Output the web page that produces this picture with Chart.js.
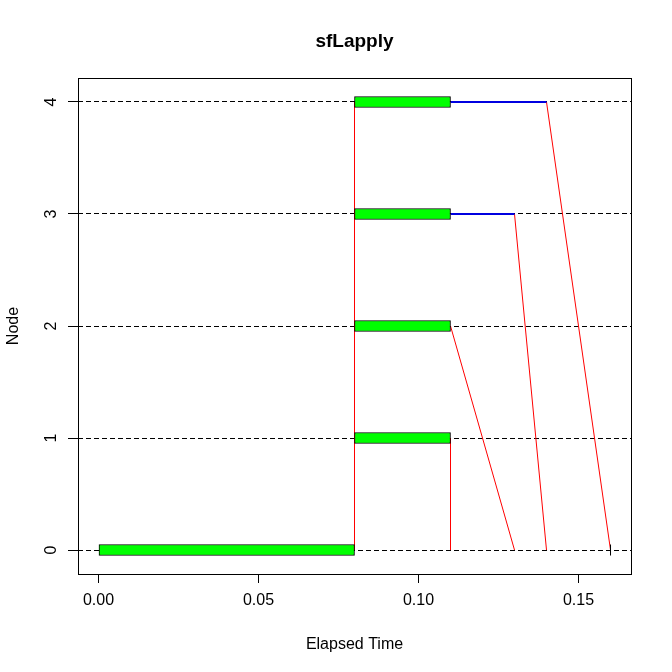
<!DOCTYPE html>
<html>
<head>
<meta charset="utf-8">
<script src="https://cdn.jsdelivr.net/npm/chart.js@4/dist/chart.umd.min.js"></script>
<style>
  html, body { margin: 0; padding: 0; background: #fff; }
  #wrap { width: 672px; height: 672px; }
</style>
</head>
<body>
<div id="wrap"><canvas id="timing"></canvas></div>
<script>
// snow-style timing plot: compute spans, sends, waits, returns
const chartTitle = 'sfLapply';
const xLabel = 'Elapsed Time';
const yLabel = 'Node';
const xTicks = [0, 0.05, 0.10, 0.15];
const yTicks = [0, 1, 2, 3, 4];
const xRange = [-0.0064, 0.1664];
const yRange = [-0.214, 4.214];

const masterNode = 0;
const masterBusy = [0, 0.08];
const masterDone = 0.16;

const workerNodes = [1, 2, 3, 4];
const sendTimes = [0.08, 0.08, 0.08, 0.08];
const workStart = [0.08, 0.08, 0.08, 0.08];
const workEnd = [0.11, 0.11, 0.11, 0.11];
const returnStart = [0.11, 0.11, 0.13, 0.14];
const returnEnd = [0.11, 0.13, 0.14, 0.16];

const FONT = '"Liberation Sans", Arial, sans-serif';

const segment = (x1, y1, x2, y2, color, width) => ({
  type: 'line',
  data: [{ x: x1, y: y1 }, { x: x2, y: y2 }],
  borderColor: color,
  borderWidth: width || 1,
  pointRadius: 0,
  fill: false,
  tension: 0,
  xAxisID: 'x',
  yAxisID: 'y'
});

const computeBars = {
  type: 'bar',
  indexAxis: 'y',
  data: [{ x: masterBusy, y: masterNode }].concat(
    workerNodes.map((n, i) => ({ x: [workStart[i], workEnd[i]], y: n }))
  ),
  backgroundColor: '#00ff00',
  borderColor: '#000000',
  borderWidth: 1,
  borderSkipped: false,
  barThickness: 11,
  xAxisID: 'x',
  yAxisID: 'y'
};

const sendLines = workerNodes.map((n, i) => segment(sendTimes[i], masterNode, workStart[i], n, '#ff0000'));
const waitLines = workerNodes.map((n, i) => segment(workEnd[i], n, returnStart[i], n, '#0000e0', 2));
const returnLines = workerNodes.map((n, i) => segment(returnStart[i], n, returnEnd[i], masterNode, '#ff0000'));

const doneMark = {
  type: 'scatter',
  data: [{ x: masterDone, y: masterNode }],
  pointStyle: 'line',
  rotation: 90,
  radius: 5.5,
  borderColor: '#000000',
  borderWidth: 1,
  xAxisID: 'x',
  yAxisID: 'y'
};

// box round the plot + title centred over the plot region
const frame = {
  id: 'frame',
  beforeDatasetsDraw(chart) {
    const { ctx, chartArea: a } = chart;
    ctx.save();
    ctx.strokeStyle = '#000';
    ctx.lineWidth = 1;
    ctx.strokeRect(Math.round(a.left) + 0.5, Math.round(a.top) + 0.5,
      Math.round(a.right - a.left), Math.round(a.bottom - a.top));
    ctx.restore();
  },
  afterDraw(chart) {
    const { ctx, chartArea: a } = chart;
    ctx.save();
    ctx.font = 'bold 19px ' + FONT;
    ctx.fillStyle = '#000';
    ctx.textAlign = 'center';
    ctx.textBaseline = 'alphabetic';
    ctx.fillText(chartTitle, (a.left + a.right) / 2, 47);
    ctx.restore();
  }
};

new Chart(document.getElementById('timing'), {
  type: 'bar',
  data: {
    datasets: [computeBars, doneMark].concat(sendLines, waitLines, returnLines)
  },
  options: {
    responsive: true,
    maintainAspectRatio: false,
    animation: false,
    layout: { padding: { top: 78, right: 41, bottom: 0, left: 0 } },
    plugins: {
      legend: { display: false },
      tooltip: { enabled: false },
      title: { display: false }
    },
    scales: {
      x: {
        type: 'linear',
        position: 'bottom',
        offset: false,
        min: xRange[0],
        max: xRange[1],
        afterBuildTicks: (scale) => { scale.ticks = xTicks.map(v => ({ value: v })); },
        afterFit: (scale) => { scale.height = 98; },
        grid: {
          offset: false,
          drawOnChartArea: false,
          drawTicks: true,
          tickLength: 9,
          tickColor: '#000',
          tickWidth: 1
        },
        border: { display: false },
        ticks: {
          color: '#000',
          font: { family: FONT, size: 16 },
          padding: 8,
          maxRotation: 0,
          autoSkip: false,
          callback: (v) => Number(v).toFixed(2)
        },
        title: {
          display: true,
          text: xLabel,
          color: '#000',
          font: { family: FONT, size: 16 },
          padding: { top: 0, bottom: 18 }
        }
      },
      y: {
        type: 'linear',
        position: 'left',
        offset: false,
        min: yRange[0],
        max: yRange[1],
        afterBuildTicks: (scale) => { scale.ticks = yTicks.map(v => ({ value: v })); },
        afterFit: (scale) => { scale.width = 78; },
        grid: {
          offset: false,
          drawOnChartArea: true,
          drawTicks: true,
          color: '#000',
          lineWidth: 1,
          tickLength: 10,
          tickColor: '#000',
          tickWidth: 1,
          tickBorderDash: []
        },
        border: { display: false, dash: [5, 3] },
        ticks: {
          color: '#000',
          font: { family: FONT, size: 16 },
          padding: 12,
          minRotation: 90,
          maxRotation: 90,
          crossAlign: 'center',
          autoSkip: false,
          callback: (v) => String(v)
        },
        title: {
          display: true,
          text: yLabel,
          color: '#000',
          font: { family: FONT, size: 16 },
          padding: { top: 4, bottom: 0 }
        }
      }
    }
  },
  plugins: [frame]
});
</script>
</body>
</html>
